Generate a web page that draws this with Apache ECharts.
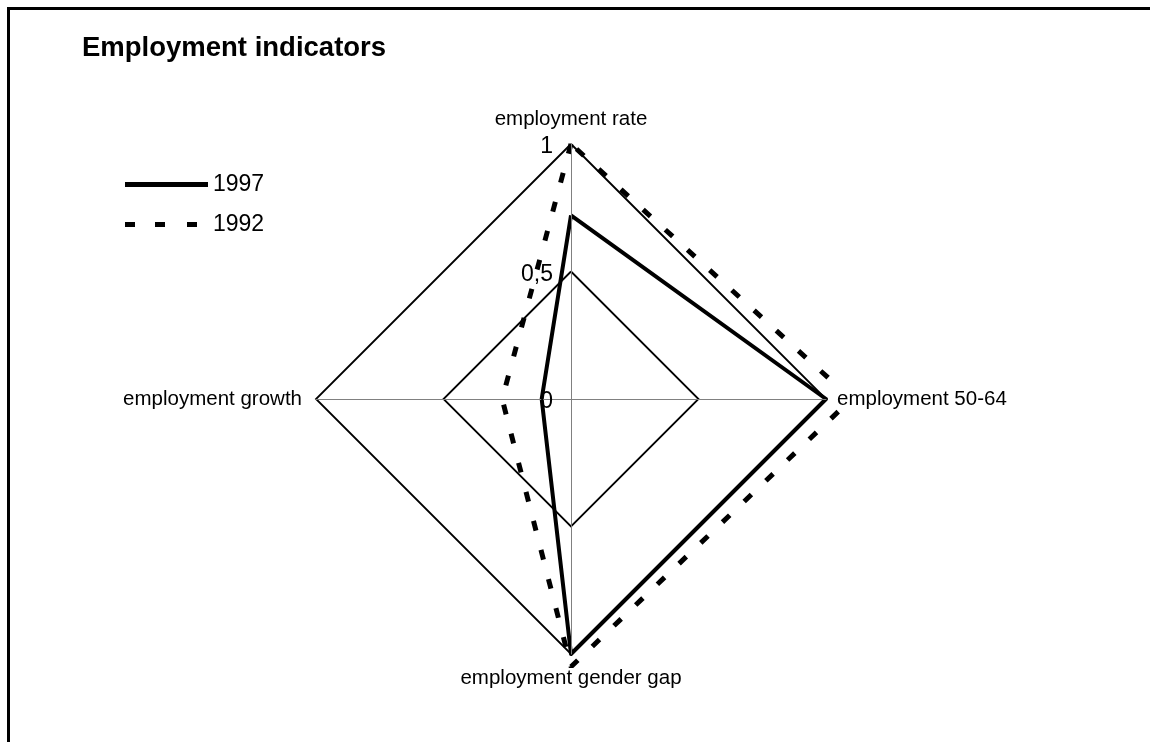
<!DOCTYPE html>
<html>
<head>
<meta charset="utf-8">
<script src="https://cdn.jsdelivr.net/npm/echarts@6/dist/echarts.min.js"></script>
<style>
  html, body { margin: 0; padding: 0; background: #fff; }
  #chart { position: absolute; left: 0; top: 0; width: 1150px; height: 742px; }
  #frame {
    position: absolute; left: 7px; top: 7px; width: 1200px; height: 800px;
    border-top: 3px solid #000; border-left: 3px solid #000; pointer-events: none;
  }
</style>
</head>
<body>
<div id="chart"></div>
<div id="frame"></div>
<script>
// Radar axes, listed counter-clockwise starting at the top
const indicatorNames = ['employment rate', 'employment growth', 'employment gender gap', 'employment 50-64'];
const seriesNames = ['1997', '1992'];
const values1997 = [0.72, 0.115, 1.0, 1.0];
const values1992 = [1.0, 0.27, 1.05, 1.10];
const axisMin = 0;
const axisMax = 1;

const FONT = 'Liberation Sans, Arial, Helvetica, sans-serif';

const chart = echarts.init(document.getElementById('chart'), null, { renderer: 'canvas' });

const indicator = indicatorNames.map(function (name, i) {
  const item = { name: name, min: axisMin, max: axisMax };
  if (i === 0) {
    // value labels along the top axis only, decimal comma
    item.axisLabel = {
      show: true,
      fontSize: 23,
      fontFamily: FONT,
      color: '#000',
      margin: 18,
      formatter: function (v) { return '{v|' + String(v).replace('.', ',') + '}'; },
      rich: {
        v: { fontSize: 23, fontFamily: FONT, color: '#000', padding: [6, 0, 0, 0] }
      }
    };
  }
  if (name === 'employment 50-64') item.nameGap = 11;
  return item;
});

chart.setOption({
  backgroundColor: '#fff',
  animation: false,
  title: {
    text: 'Employment indicators',
    left: 82,
    top: 34,
    padding: 0,
    textStyle: { fontFamily: FONT, fontSize: 27.5, fontWeight: 'bold', color: '#000' }
  },
  legend: {
    orient: 'vertical',
    left: 125,
    top: 173,
    padding: 0,
    itemWidth: 83,
    itemHeight: 5,
    itemGap: 17,
    textStyle: { fontFamily: FONT, fontSize: 23, color: '#000' },
    data: [
      { name: '1997', icon: 'rect' },
      { name: '1992', icon: 'path://M0,0h10v5h-10zM30,0h10v5h-10zM62,0h10v5h-10zM83,5' }
    ],
    itemStyle: { color: '#000' }
  },
  radar: {
    center: [571, 399],
    radius: 255,
    startAngle: 90,
    shape: 'polygon',
    splitNumber: 2,
    z: 3,
    indicator: indicator,
    nameGap: 14,
    axisName: { fontFamily: FONT, fontSize: 20.5, color: '#000', backgroundColor: '#fff' },
    axisLine: { show: true, lineStyle: { color: '#808080', width: 1 } },
    axisTick: { show: false },
    axisLabel: { show: false },
    splitLine: { lineStyle: { color: '#000', width: 1.8 } },
    splitArea: { show: false }
  },
  series: [
    {
      type: 'radar',
      z: 2,
      symbol: 'none',
      data: [
        {
          name: seriesNames[0],
          value: values1997,
          lineStyle: { color: '#000', width: 4, type: 'solid' },
          itemStyle: { color: '#000' }
        },
        {
          name: seriesNames[1],
          value: values1992,
          lineStyle: { color: '#000', width: 5, type: [10, 20], cap: 'butt' },
          itemStyle: { color: '#000' }
        }
      ]
    }
  ]
});
</script>
</body>
</html>
